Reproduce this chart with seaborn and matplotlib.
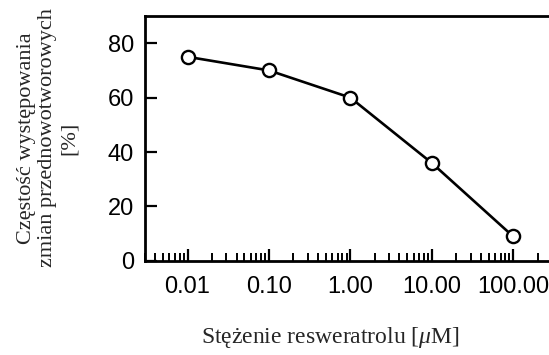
import matplotlib
matplotlib.use("Agg")
import matplotlib.pyplot as plt
import matplotlib.ticker as mticker
import numpy as np
import pandas as pd
import seaborn as sns

# Resveratrol concentration [µM] and incidence of preneoplastic lesions [%]
concentration = [0.01, 0.1, 1.0, 10.0, 100.0]
incidence = [75, 70, 60, 36, 9]
x_tick_values = [0.01, 0.1, 1.0, 10.0, 100.0]
x_tick_labels = ["0.01", "0.10", "1.00", "10.00", "100.00"]
y_tick_values = [0, 20, 40, 60, 80]

sns.set_theme(style="ticks")
plt.rcParams["font.family"] = ["Liberation Sans", "DejaVu Sans"]
plt.rcParams["mathtext.fontset"] = "custom"
plt.rcParams["mathtext.it"] = "Liberation Serif:italic"
plt.rcParams["mathtext.rm"] = "Liberation Serif"

df = pd.DataFrame({"conc": concentration, "inc": incidence})

fig = plt.figure(figsize=(5.49, 3.55), dpi=100)
ax = fig.add_axes([0.264, 0.265, 0.76, 0.69])

sns.lineplot(data=df, x="conc", y="inc", ax=ax, color="black", linewidth=1.9,
             marker="o", markersize=9.5, markerfacecolor="white",
             markeredgecolor="black", markeredgewidth=1.7)

ax.set_xscale("log")
ax.set_xlim(0.003, 400)
ax.set_ylim(0, 90)

ax.xaxis.set_major_locator(mticker.FixedLocator(x_tick_values))
ax.xaxis.set_major_formatter(mticker.FixedFormatter(x_tick_labels))
ax.xaxis.set_minor_locator(mticker.LogLocator(base=10, subs=np.arange(2, 10)))
ax.xaxis.set_minor_formatter(mticker.NullFormatter())
ax.set_yticks(y_tick_values)

ax.tick_params(axis="both", which="major", direction="in", length=8.5,
               width=1.6, colors="black", labelsize=17)
ax.tick_params(axis="x", which="major", pad=11)
ax.tick_params(axis="y", which="major", pad=8)
ax.tick_params(axis="x", which="minor", direction="in", length=5.5, width=1.4,
               colors="black")

for side in ["left", "bottom", "top", "right"]:
    ax.spines[side].set_visible(True)
    ax.spines[side].set_linewidth(2.0)
    ax.spines[side].set_color("black")

ax.set_xlabel("")
ax.set_ylabel("")

fig.text(330 / 549, 1 - 337 / 355, r"Stężenie resweratrolu [$\mu$M]",
         ha="center", va="center", fontsize=17,
         family=["Liberation Serif", "DejaVu Serif"])
fig.text(48 / 549, 1 - 138 / 355,
         "Częstość występowania\nzmian przednowotworowych\n[%]",
         ha="center", va="center", rotation=90, fontsize=16, linespacing=1.2,
         multialignment="center", family=["Liberation Serif", "DejaVu Serif"])

fig.savefig("out.png", dpi=100)
